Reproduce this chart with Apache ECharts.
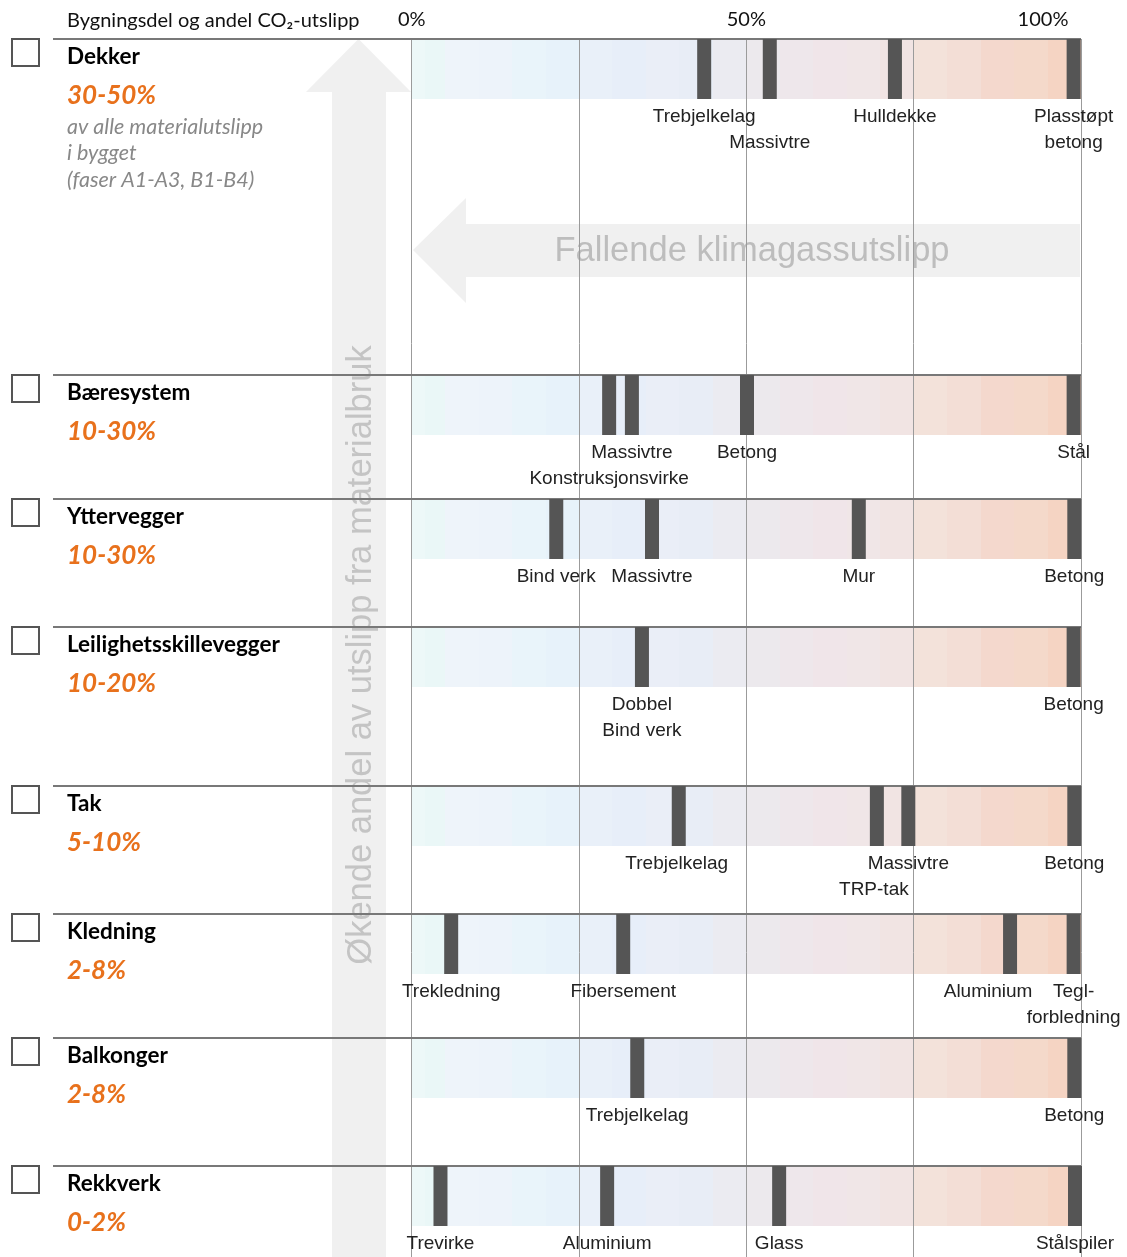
<!DOCTYPE html>
<html><head><meta charset="utf-8">
<script src="https://cdn.jsdelivr.net/npm/echarts@6/dist/echarts.min.js"></script>
<style>html,body{margin:0;padding:0;background:#fff}#c{width:1127px;height:1257px}</style>
</head><body><div id="c"></div><script>
// ---------- data ----------
const categories = ['Dekker','Bæresystem','Yttervegger','Leilighetsskillevegger','Tak','Kledning','Balkonger','Rekkverk'];
const shares = ['30-50%','10-30%','10-30%','10-20%','5-10%','2-8%','2-8%','0-2%'];
const dekkerNote = ['av alle materialutslipp','i bygget','(faser A1-A3, B1-B4)'];
const markerNames = [
  ['Trebjelkelag','Massivtre','Hulldekke','Plasstøpt\nbetong'],
  ['Konstruksjonsvirke','Massivtre','Betong','Stål'],
  ['Bind verk','Massivtre','Mur','Betong'],
  ['Dobbel\nBind verk','Betong'],
  ['Trebjelkelag','TRP-tak','Massivtre','Betong'],
  ['Trekledning','Fibersement','Aluminium','Tegl-\nforbledning'],
  ['Trebjelkelag','Betong'],
  ['Trevirke','Aluminium','Glass','Stålspiler']
];
const markerValues = [
  [43.7, 53.5, 72.2, 98.9],
  [29.5, 32.9, 50.1, 98.9],
  [21.6, 35.9, 66.8, 99.0],
  [34.4, 98.9],
  [39.9, 69.5, 74.2, 99.0],
  [5.9, 31.6, 89.4, 98.9],
  [33.7, 99.0],
  [4.3, 29.2, 54.9, 99.1]
];
const axisTickLabels = {0:'0%', 50:'50%', 100:'100%'};
const headerText = 'Bygningsdel og andel CO₂-utslipp';
const arrowTextV = 'Økende andel av utslipp fra materialbruk';
const arrowTextH = 'Fallende klimagassutslipp';

// ---------- layout / style ----------
const L = 411.7, W = 669.3, BAR_H = 60;
const rowTops = [39, 375, 499, 627, 786, 914, 1038, 1166];
// label line (0 = first line under bar, 1 = second) and horizontal shift
const labelLine = [[0,1,0,0],[1,0,0,0],[0,0,0,0],[0,0],[0,1,0,0],[0,0,0,0],[0,0],[0,0,0,0]];
const labelDx = [[0,0,0,0],[0,0,0,0],[0,0,0,0],[0,0],[-2,-3,0,0],[0,0,-22,0],[0,0],[0,0,0,0]];
const bands = [
  '#EDF8F8','#EAF7F7','#EEF4FA','#EDF3FA','#E9F4FA','#E7F2FA','#E9F0F9','#E7EEF9',
  '#EAEEF7','#E8EDF6','#EBEBF1','#ECE9ED','#EEE7EB','#F0E5E9','#F0E6E7','#F1E4E3',
  '#F3E2DA','#F3DED6','#F4D8CD','#F4D9CA','#F5D4C3','#F4CDB8'
];
const bandEdges = [0,0.02,0.05,0.1,0.15,0.2,0.25,0.3,0.35,0.4,0.45,0.5,0.55,0.6,0.65,0.7,0.75,0.8,0.85,0.9,0.95,0.98,1];
const stops = [];
bands.forEach((c,i)=>{ stops.push({offset:bandEdges[i], color:c}); stops.push({offset:bandEdges[i+1], color:c}); });
const ORANGE = '#E8711C';
const LEFT_FONT = 'Lato, "Open Sans", sans-serif';
const BAR_FONT = '"Liberation Sans", Arial, Helvetica, sans-serif';

const grids = [{left:L, width:W, top:39, height:1257-39}];
const xAxes = [{
  gridIndex:0, type:'value', min:0, max:100, interval:25, position:'top', z:3,
  axisLine:{show:false}, axisTick:{show:false},
  splitLine:{show:true, lineStyle:{color:'#9b9b9b', width:1}},
  axisLabel:{
    show:true, margin:9, showMinLabel:true, showMaxLabel:true,
    fontFamily:LEFT_FONT, fontSize:20, color:'#111',
    formatter: v => v===100 ? '{r|'+axisTickLabels[v]+'}' : (axisTickLabels[v]||''),
    rich:{ r:{fontFamily:LEFT_FONT, fontSize:20, color:'#111', padding:[0,76,0,0]} }
  }
}];
const yAxes = [{gridIndex:0, type:'value', show:false, min:0, max:1}];
const series = [];

rowTops.forEach((top,i)=>{
  const gi = i+1;
  grids.push({left:L, width:W, top:top, height:BAR_H});
  xAxes.push({gridIndex:gi, type:'value', min:0, max:100, show:false});
  yAxes.push({gridIndex:gi, type:'category', data:[categories[i]], show:false});
  series.push({
    type:'bar', xAxisIndex:gi, yAxisIndex:gi, data:[100], barWidth:BAR_H, z:1, silent:true,
    itemStyle:{color:new echarts.graphic.LinearGradient(0,0,1,0,stops)}
  });
  series.push({
    type:'scatter', xAxisIndex:gi, yAxisIndex:gi, z:5, silent:true,
    symbol:'rect', symbolSize:[14, BAR_H],
    itemStyle:{color:'#555555', opacity:1},
    data: markerValues[i].map((v,j)=>({
      value:[v, categories[i]], name:markerNames[i][j],
      label:{offset:[labelDx[i][j], labelLine[i][j]*26]}
    })),
    label:{show:true, position:'bottom', distance:5, formatter:'{b}',
      fontFamily:BAR_FONT, fontSize:19, color:'#222', lineHeight:26, align:'center'}
  });
});

// ---------- graphic (decorations, left texts) ----------
const g = [];
g.push({type:'polygon', z:-10, shape:{points:[[358.5,39],[411,92],[386,92],[386,1257],[332,1257],[332,92],[306,92]]}, style:{fill:'#F0F0F0'}});
g.push({type:'polygon', z:-10, shape:{points:[[413,250],[466,198],[466,224],[1080,224],[1080,277],[466,277],[466,303]]}, style:{fill:'#F0F0F0'}});
g.push({type:'text', z:-9, x:361, y:655, rotation:Math.PI/2, style:{text:arrowTextV, fontFamily:BAR_FONT, fontSize:34.5, fill:'#C4C4C4', align:'center', verticalAlign:'middle'}});
g.push({type:'text', z:-9, x:752, y:251, style:{text:arrowTextH, fontFamily:BAR_FONT, fontSize:34.5, fill:'#BDBDBD', align:'center', verticalAlign:'middle'}});
g.push({type:'text', z:10, x:67, y:21, style:{text:headerText, fontFamily:LEFT_FONT, fontSize:20, fill:'#111', align:'left', verticalAlign:'middle'}});
rowTops.forEach((top,i)=>{
  g.push({type:'line', z:4, shape:{x1:53, y1:top, x2:1081, y2:top}, style:{stroke:'#787878', lineWidth:2}});
  g.push({type:'rect', z:10, shape:{x:12, y:top, width:27, height:27}, style:{fill:'none', stroke:'#555', lineWidth:2}});
  g.push({type:'text', z:10, x:67, y:top+18, style:{text:categories[i], fontFamily:LEFT_FONT, fontWeight:'bold', fontSize:22.5, fill:'#000', align:'left', verticalAlign:'middle'}});
  g.push({type:'text', z:10, x:67, y:top+57, style:{text:shares[i], fontFamily:LEFT_FONT, fontStyle:'italic', fontWeight:'bold', fontSize:26, fill:ORANGE, align:'left', verticalAlign:'middle'}});
});
dekkerNote.forEach((t,k)=>{
  g.push({type:'text', z:10, x:67, y:rowTops[0]+88+k*26.5, style:{text:t, fontFamily:LEFT_FONT, fontStyle:'italic', fontSize:21.5, fill:'#888', align:'left', verticalAlign:'middle'}});
});

const chart = echarts.init(document.getElementById('c'), null, {renderer:'canvas'});
chart.setOption({
  animation:false, backgroundColor:'#fff',
  grid:grids, xAxis:xAxes, yAxis:yAxes, series:series,
  graphic:{elements:g}
});
</script></body></html>
